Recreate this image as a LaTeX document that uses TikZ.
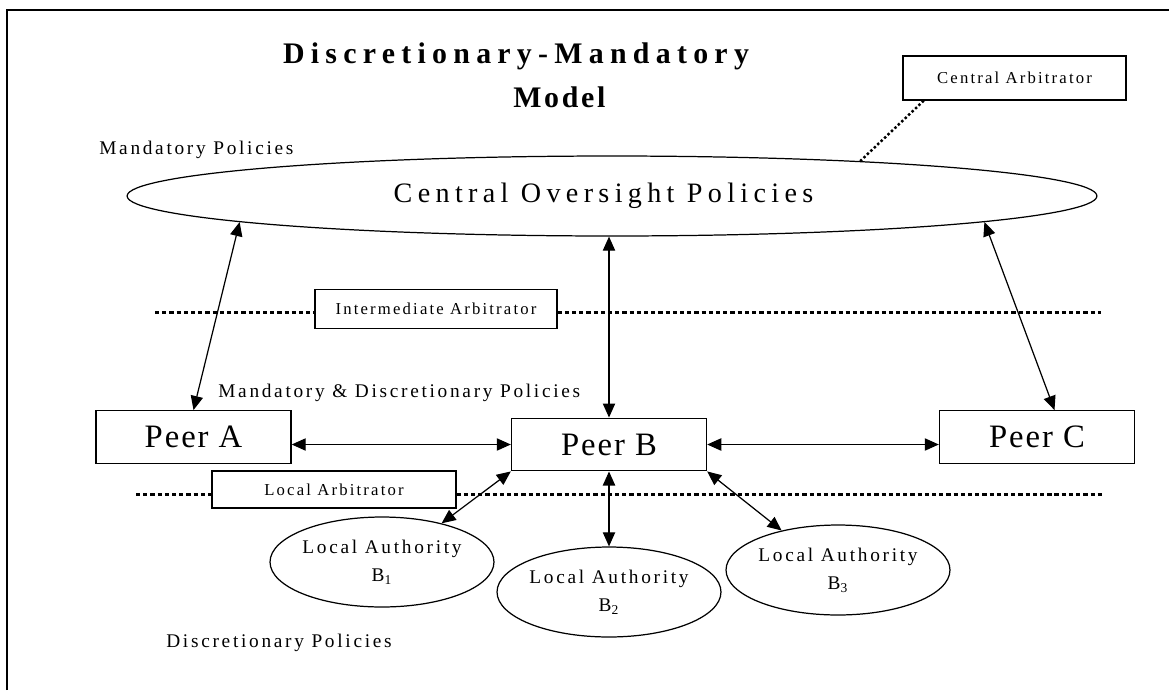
\documentclass[tikz,border=0pt]{standalone}
\usepackage{fontspec}
\setmainfont{Liberation Serif}
\usetikzlibrary{shapes,positioning,calc,arrows.meta}

\newfontfamily\titlefont[LetterSpace=21]{Liberation Serif}
\newfontfamily\modelfont[LetterSpace=9]{Liberation Serif}
\newfontfamily\ovfont[LetterSpace=19]{Liberation Serif}
\newfontfamily\peerfont[LetterSpace=6]{Liberation Serif}
\newfontfamily\polfont[LetterSpace=14]{Liberation Serif}
\newfontfamily\arbfont[LetterSpace=13]{Liberation Serif}

\begin{document}
\begin{tikzpicture}
  [x=0.02cm, y=-0.02cm,
   peerN/.style={rectangle,draw,line width=0.8pt,minimum width=3.9cm,minimum height=1.05cm,
                 font=\peerfont\fontsize{18.6}{22}\selectfont},
   arbN/.style={rectangle,draw,line width=0.7pt,font=\arbfont\fontsize{9.5}{11}\selectfont},
   authN/.style={ellipse,draw,line width=0.7pt,minimum width=4.48cm,minimum height=1.8cm,
                 inner xsep=-20pt,inner ysep=0pt,align=center,font=\polfont\fontsize{11}{16}\selectfont},
   polT/.style={inner sep=0pt,font=\polfont\fontsize{11}{13}\selectfont},
   dbl/.style={{Triangle[length=8pt,width=7pt]}-{Triangle[length=8pt,width=7pt]},line width=0.7pt},
   sep/.style={line width=1.7pt,dash pattern=on 2.4pt off 1.7pt}]

  \useasboundingbox (0,0) rectangle (1169,690);
  \draw[line width=1.3pt] (7,690) -- (7,10) -- (1169,10);

  % title
  \node[inner sep=0pt,anchor=base,font=\titlefont\bfseries\fontsize{17}{20}\selectfont] (title) at (516,63) {Discretionary-Mandatory};
  \node[inner sep=0pt,anchor=base west,font=\modelfont\bfseries\fontsize{17}{20}\selectfont] (model) at (513,107) {Model};

  % central level
  \node[ellipse,draw,line width=0.7pt,minimum width=19.4cm,minimum height=1.6cm,
        font=\ovfont\fontsize{16}{19}\selectfont] (cop) at (612,196) {\hspace*{-0.34cm}Central Oversight Policies};
  \node[polT,anchor=base west] (mpol) at (99,154) {Mandatory Policies};
  \node[arbN,minimum width=4.46cm,minimum height=0.88cm] (ca) at (1014.5,78) {Central Arbitrator};
  \draw[line width=1.4pt,dash pattern=on 1.4pt off 1.3pt] (ca.194.5) -- (cop.8);

  % intermediate level
  \coordinate (il) at (155,312);
  \coordinate (ir) at (1101,312);
  \node[arbN,minimum width=4.84cm,minimum height=0.78cm] (ia) at (436,309) {Intermediate Arbitrator};
  \draw[sep] (il) -- (il -| ia.west);
  \draw[sep] (il -| ia.east) -- (ir);

  \node[polT,anchor=base west] (mdpol) at (218,397) {Mandatory \& Discretionary Policies};

  \node[peerN] (pa) at (193.5,437) {Peer A};
  \node[peerN] (pb) at (609,444.5) {Peer B};
  \node[peerN] (pc) at (1037,437) {Peer C};

  \draw[dbl] (cop.184.5) -- (pa.north);
  \draw[dbl] (pb.north |- cop.south) -- (pb.north);
  \draw[dbl] (cop.356.3) -- (pc.57);
  \draw[dbl] (pa.east |- pb.west) -- (pb.west);
  \draw[dbl] (pb.east) -- (pb.east -| pc.west);

  % local level
  \coordinate (ll) at (136,494);
  \coordinate (lr) at (1102,494);
  \node[arbN,minimum width=4.88cm,minimum height=0.74cm] (la) at (334,489.5) {Local Arbitrator};
  \draw[sep] (ll) -- (ll -| la.west);
  \draw[sep] (ll -| la.east) -- (lr);

  \node[authN] (b1) at (382,562) {Local Authority\\B\textsubscript{1}};
  \node[authN] (b2) at (609,592) {Local Authority\\B\textsubscript{2}};
  \node[authN] (b3) at (838,570) {Local Authority\\B\textsubscript{3}};

  \draw[dbl] (pb.south west) -- (b1.33);
  \draw[dbl] (pb.south) -- (b2.north);
  \draw[dbl] (pb.south east) -- (b3.145);

  \node[polT,anchor=base west] (dpol) at (166,647) {Discretionary Policies};
\end{tikzpicture}
\end{document}
